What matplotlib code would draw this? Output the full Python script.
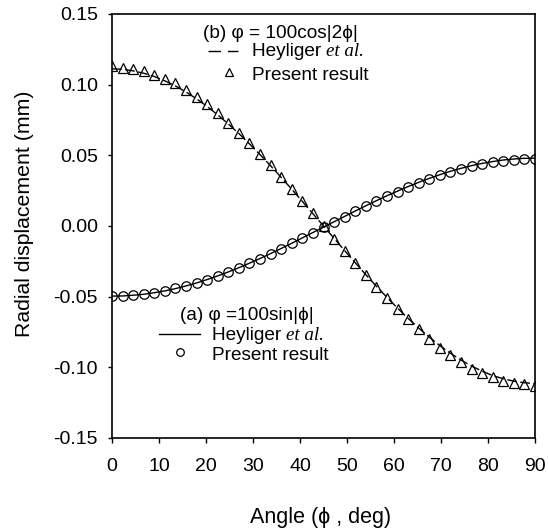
import matplotlib
matplotlib.use("Agg")
import matplotlib.pyplot as plt

plt.rcParams['font.family'] = ['Liberation Sans', 'DejaVu Sans']

# angle (deg)
angle = [0, 2.25, 4.5, 6.75, 9, 11.25, 13.5, 15.75, 18, 20.25, 22.5, 24.75, 27, 29.25,
         31.5, 33.75, 36, 38.25, 40.5, 42.75, 45, 47.25, 49.5, 51.75, 54, 56.25, 58.5,
         60.75, 63, 65.25, 67.5, 69.75, 72, 74.25, 76.5, 78.75, 81, 83.25, 85.5, 87.75, 90]

# (a) phi = 100 sin|phi|
heyliger_a = [-0.0496, -0.0495, -0.0490, -0.0483, -0.0472, -0.0459, -0.0443, -0.0424, -0.0403,
              -0.0379, -0.0353, -0.0325, -0.0295, -0.0263, -0.0230, -0.0195, -0.0159, -0.0122,
              -0.0084, -0.0046, -0.0008, 0.0030, 0.0068, 0.0106, 0.0143, 0.0179, 0.0214,
              0.0247, 0.0279, 0.0309, 0.0337, 0.0363, 0.0387, 0.0408, 0.0427, 0.0443, 0.0456,
              0.0467, 0.0474, 0.0479, 0.0480]
present_a = [-0.0495, -0.0493, -0.0489, -0.0482, -0.0471, -0.0458, -0.0442, -0.0424, -0.0402,
             -0.0379, -0.0353, -0.0325, -0.0295, -0.0263, -0.0230, -0.0196, -0.0160, -0.0123,
             -0.0086, -0.0048, -0.0010, 0.0028, 0.0066, 0.0103, 0.0140, 0.0176, 0.0210,
             0.0243, 0.0275, 0.0305, 0.0333, 0.0359, 0.0382, 0.0404, 0.0422, 0.0438, 0.0451,
             0.0462, 0.0469, 0.0473, 0.0475]

# (b) phi = 100 cos|2phi|
heyliger_b = [0.1112, 0.1109, 0.1098, 0.1081, 0.1058, 0.1027, 0.0991, 0.0948, 0.0900, 0.0846,
              0.0786, 0.0722, 0.0654, 0.0581, 0.0505, 0.0426, 0.0344, 0.0260, 0.0174, 0.0087,
              0.0000, -0.0087, -0.0174, -0.0260, -0.0344, -0.0426, -0.0505, -0.0581, -0.0654,
              -0.0722, -0.0786, -0.0846, -0.0900, -0.0948, -0.0991, -0.1027, -0.1058, -0.1081,
              -0.1098, -0.1109, -0.1115]
present_b = [0.113, 0.112, 0.111, 0.110, 0.107, 0.104, 0.101, 0.096, 0.091, 0.086, 0.080,
             0.073, 0.066, 0.059, 0.051, 0.043, 0.035, 0.026, 0.018, 0.009, 0.000, -0.009,
             -0.018, -0.026, -0.035, -0.043, -0.051, -0.059, -0.066, -0.073, -0.080, -0.086,
             -0.091, -0.096, -0.101, -0.104, -0.107, -0.110, -0.111, -0.112, -0.113]

xticks = [0, 10, 20, 30, 40, 50, 60, 70, 80, 90]
yticks = [-0.15, -0.10, -0.05, 0.00, 0.05, 0.10, 0.15]

fig = plt.figure(figsize=(5.48, 5.31), dpi=100)
ax = fig.add_axes([112/548, 1-438/531, (535-112)/548, (438-14)/531])

dash = (0, (7, 2.5))
ax.plot(angle, heyliger_a, color='black', lw=1.0, zorder=2)
ax.plot(angle, heyliger_b, color='black', lw=1.0, linestyle=dash, zorder=2)
ax.plot(angle, present_a, linestyle='none', marker='o', ms=6.8, mfc='none', mec='black',
        mew=0.9, zorder=3)
ax.plot(angle, present_b, linestyle='none', marker='^', ms=7.2, mfc='none', mec='black',
        mew=0.9, zorder=3)

ax.set_xlim(0, 90)
ax.set_ylim(-0.15, 0.15)
ax.set_xticks(xticks)
ax.set_yticks(yticks)
ax.set_xticklabels([str(t) for t in xticks])
ax.set_yticklabels([f"{t:.2f}" for t in yticks])
ax.tick_params(axis='x', direction='out', length=3.5, width=1, labelsize=14, pad=11)
ax.tick_params(axis='y', direction='out', length=3.0, width=1, labelsize=14, pad=7)
for s in ax.spines.values():
    s.set_linewidth(1.2)

fig.text(25/548, 1-214/531, "Radial displacement (mm)", rotation=90,
         ha='center', va='center', fontsize=15.3)
fig.text(321/548, 1-517/531, "Angle (\u03d5 , deg)", ha='center', va='center',
         fontsize=15.5)

# legend (b)
def px(x, y):
    return (x/548, 1-y/531)

tfs = 13.7
fig.text(*px(203, 33), "(b) \u03c6 = 100cos|2\u03d5|", ha='left', va='center', fontsize=tfs)
fig.add_artist(plt.Line2D([208/548, 238/548], [1-51/531, 1-51/531], color='black', lw=1.0,
                          linestyle=(0, (9, 5))))
t1 = fig.text(*px(252, 52), "Heyliger ", ha='left', va='center', fontsize=tfs)
ax.annotate("et al.", xy=(1, 0.5), xycoords=t1, va='center', ha='left', fontsize=tfs,
            family=['Liberation Serif', 'DejaVu Serif'], style='italic')
fig.add_artist(plt.Line2D([229/548], [1-72/531], marker='^', ms=6, mfc='none', mec='black',
                          mew=0.9, linestyle='none'))
fig.text(*px(252, 75), "Present result", ha='left', va='center', fontsize=tfs)

# legend (a)
fig.text(*px(180, 316), "(a) \u03c6 =100sin|\u03d5|", ha='left', va='center', fontsize=tfs)
fig.add_artist(plt.Line2D([159/548, 200/548], [1-334/531, 1-334/531], color='black', lw=1.0))
t2 = fig.text(*px(212, 336), "Heyliger ", ha='left', va='center', fontsize=tfs)
ax.annotate("et al.", xy=(1, 0.5), xycoords=t2, va='center', ha='left', fontsize=tfs,
            family=['Liberation Serif', 'DejaVu Serif'], style='italic')
fig.add_artist(plt.Line2D([180/548], [1-352/531], marker='o', ms=5.5, mfc='none', mec='black',
                          mew=0.9, linestyle='none'))
fig.text(*px(212, 355), "Present result", ha='left', va='center', fontsize=tfs)

fig.savefig("out.png", dpi=100)
